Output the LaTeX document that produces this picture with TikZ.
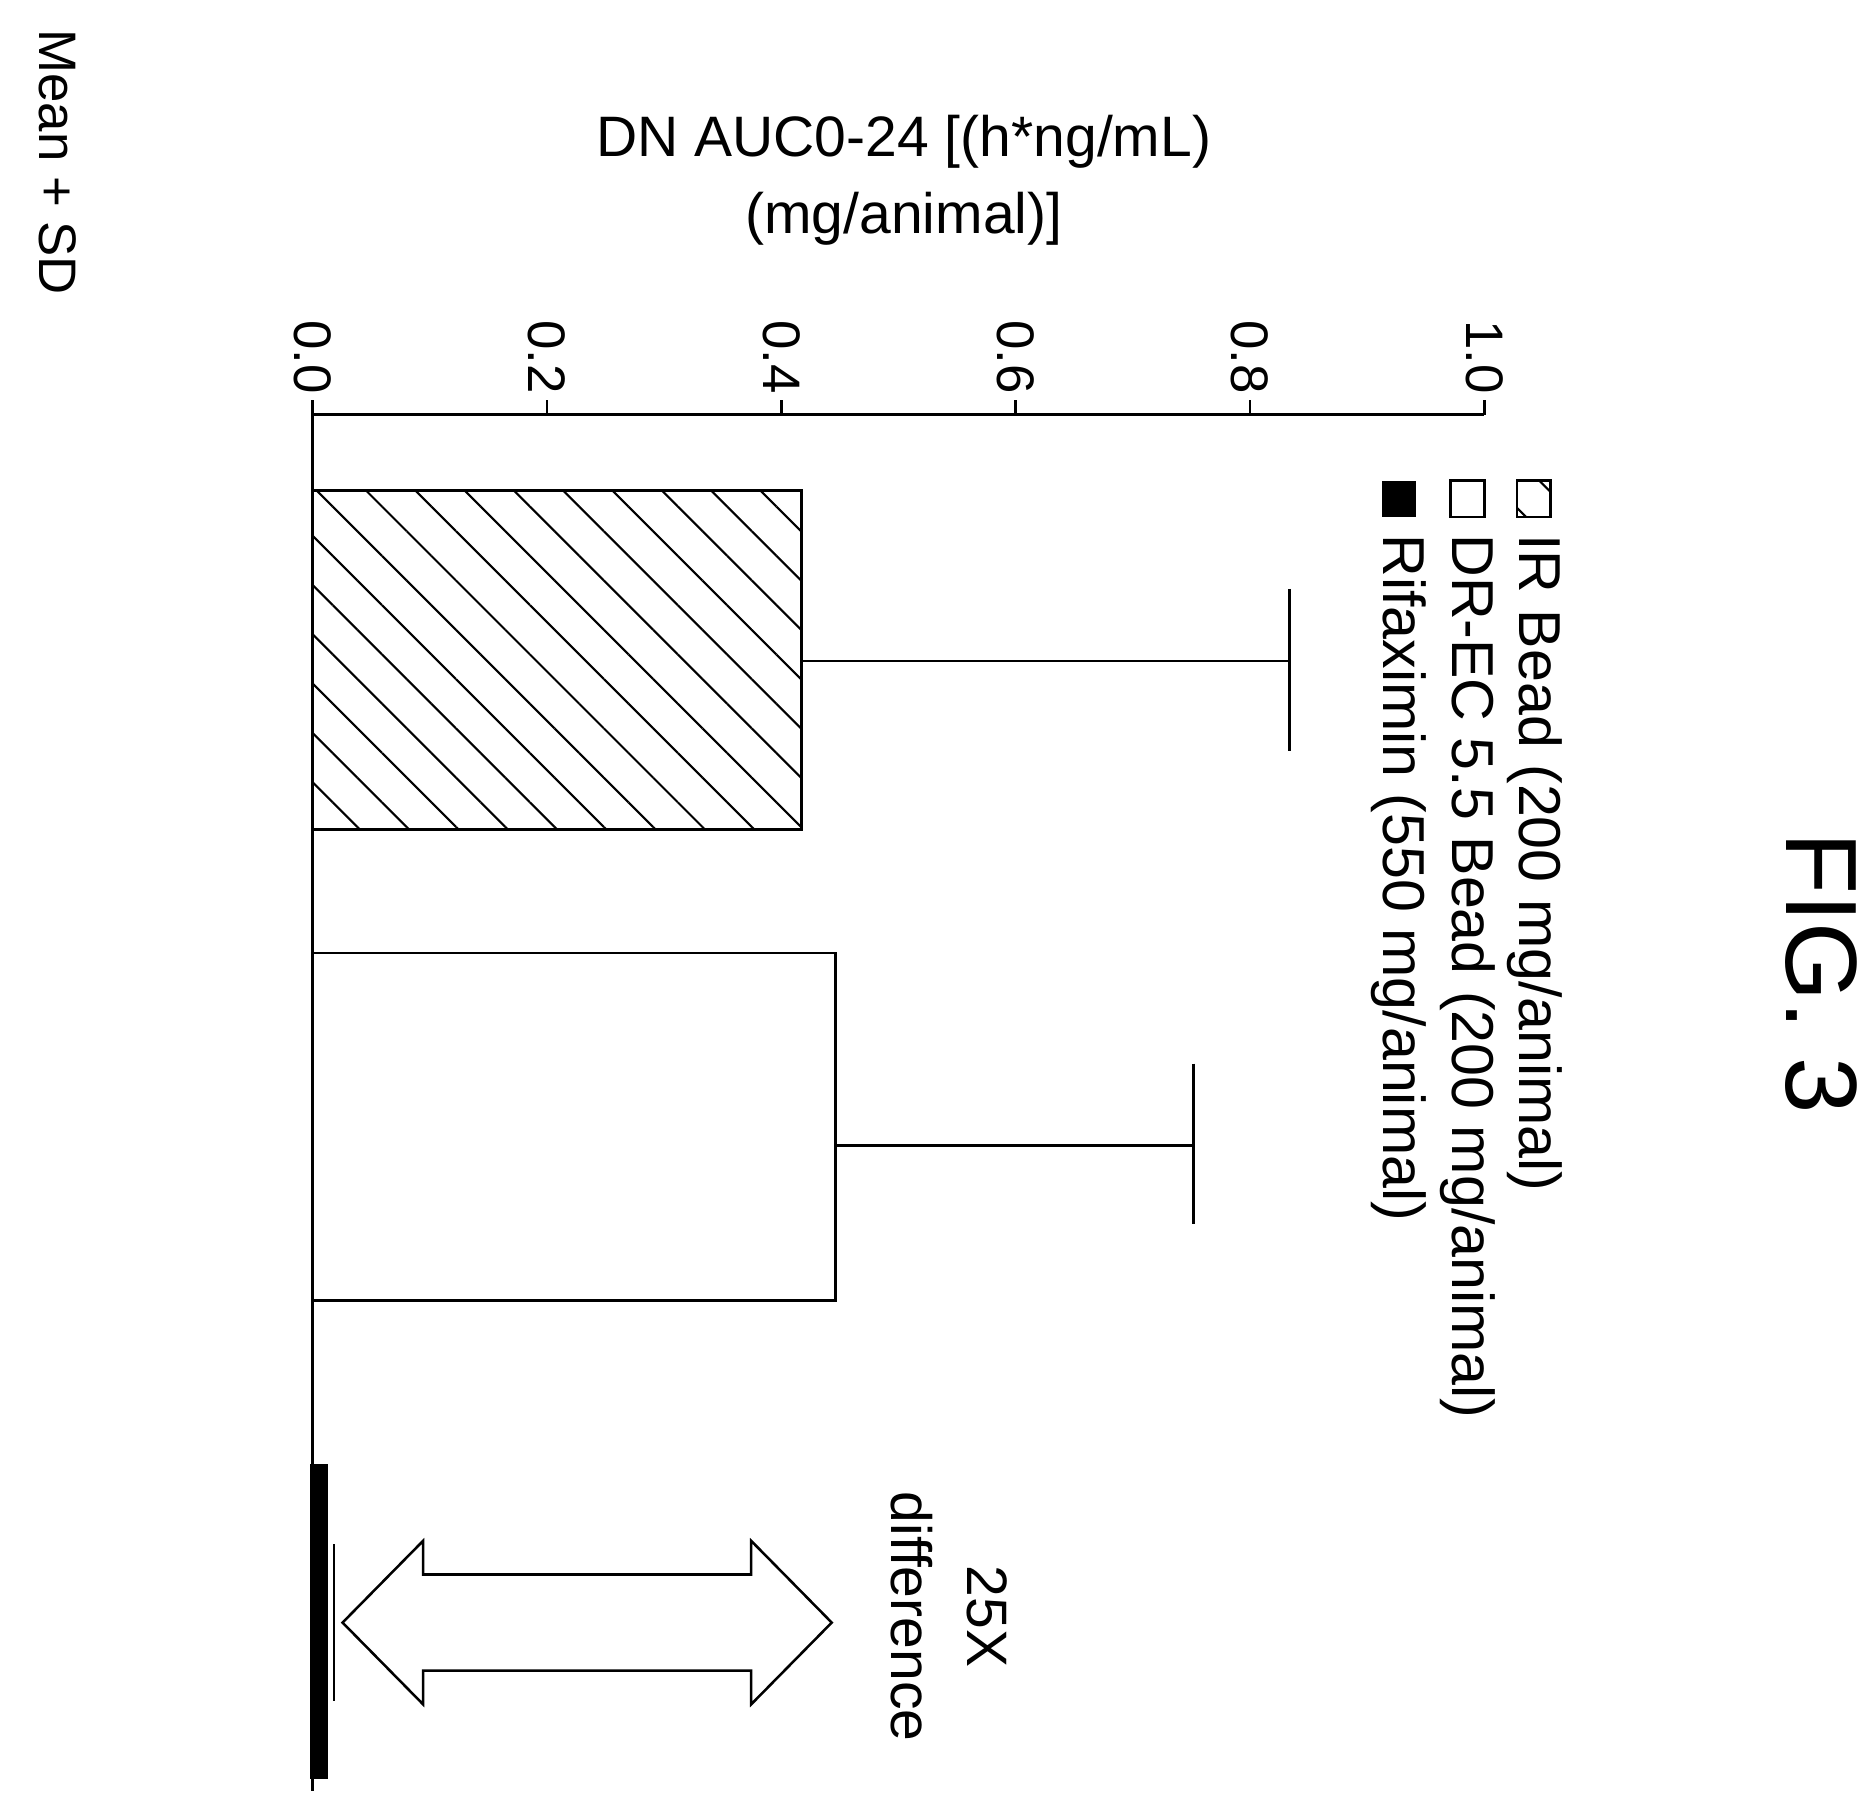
\documentclass[tikz,border=0pt]{standalone}
\usepackage{fontspec}
\setmainfont{Liberation Sans}
\usetikzlibrary{patterns.meta,shapes.arrows}
\tikzset{
  rlabel/.style={rotate=-90, inner sep=1pt},
  hatch/.style={pattern={Lines[angle=-45,distance=2.9mm,line width=0.5pt]}},
}
\begin{document}
\begin{tikzpicture}[x=0.1mm, y=-0.1mm, line width=0.6pt]
    \useasboundingbox (0,0) rectangle (1560,1498);
        % axes
        \draw (260,345) -- (260,1490);
        \draw (260,345) -- (1235,345);
        \foreach \v/\x in {0.0/260, 0.2/455, 0.4/650, 0.6/845, 0.8/1040, 1.0/1235} {
            \draw (\x,345) -- (\x,333);
            \node[rlabel, anchor=east, font=\fontsize{12.5}{15}\selectfont] (t\x) at (\x,332) {\v};
        }
        \node[align=center, font=\fontsize{13.5}{18}\selectfont] (title) at (752,150) {DN AUC0-24 [(h*ng/mL)\\(mg/animal)]};
        \node[rlabel, anchor=west, font=\fontsize{12.5}{14}\selectfont] (msd) at (48,20) {Mean + SD};
        \node[rlabel, font=\fontsize{24}{28}\selectfont] (fig) at (1515,810) {FIG. 3};
        % bars
        \draw[hatch] (260,408) rectangle (667,690);
        \draw (667,550) -- (1073,550);
        \draw (1073,490) -- (1073,625);
        \draw (260,793) rectangle (695,1082);
        \draw (695,953) -- (993,953);
        \draw (993,885) -- (993,1018);
        \fill (258,1218) rectangle (273,1480);
        \draw (278,1285) -- (278,1415);
        % 25X arrow
        \draw (285,1350) -- (352,1282) -- (352,1310) -- (625,1310) -- (625,1282) -- (692,1350)
              -- (625,1418) -- (625,1390) -- (352,1390) -- (352,1418) -- cycle;
        \node[rlabel, align=center, font=\fontsize{13.5}{18}\selectfont] (diff) at (790,1345) {25X\\difference};
        % legend
        \draw[hatch] (1262,400) rectangle (1290,430);
        \draw (1207,400) rectangle (1235,430);
        \fill (1150,400) rectangle (1178,430);
        \node[rlabel, anchor=west, font=\fontsize{14}{17}\selectfont] (lg1) at (1277,440) {IR Bead (200 mg/animal)};
        \node[rlabel, anchor=west, font=\fontsize{14}{17}\selectfont] (lg2) at (1221,440) {DR-EC 5.5 Bead (200 mg/animal)};
        \node[rlabel, anchor=west, font=\fontsize{14}{17}\selectfont] (lg3) at (1164,440) {Rifaximin (550 mg/animal)};
    \end{tikzpicture}
\end{document}
